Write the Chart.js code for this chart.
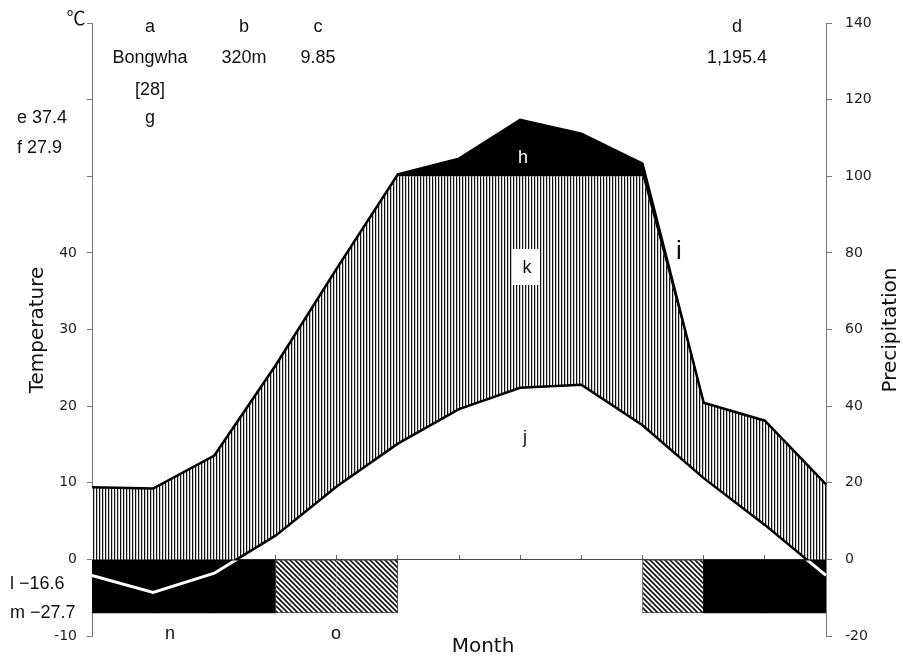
<!DOCTYPE html>
<html>
<head>
<meta charset="utf-8">
<script src="https://cdn.jsdelivr.net/npm/chart.js@4.4.0/dist/chart.umd.min.js"></script>
<style>
body { margin: 0; background: #fff; }
</style>
</head>
<body>
<canvas id="myChart" width="903" height="658"></canvas>
<script>
// 13 points: month boundaries, last one wraps back to the first month
var monthPoints = ['1', '2', '3', '4', '5', '6', '7', '8', '9', '10', '11', '12', '1'];
var months = ['1', '2', '3', '4', '5', '6', '7', '8', '9', '10', '11', '12'];
var temperature = [-2.1, -4.3, -1.8, 3.1, 9.5, 15.1, 19.6, 22.4, 22.8, 17.5, 10.6, 4.5, -2.1];
var precipitation = [18.8, 18.5, 27.1, 50.6, 75.9, 100.5, 104.6, 114.7, 111.1, 103.3, 40.9, 36.2, 19.6];
// frost: 'sure' = black bar, 'probable' = hatched bar
var frost = ['sure', 'sure', 'sure', 'probable', 'probable', null, null, null, null, 'probable', 'sure', 'sure'];
var tempTicks = [-10, 0, 10, 20, 30, 40];

function stripePattern() {
    var c = document.createElement('canvas');
    c.width = 3; c.height = 3;
    var g = c.getContext('2d');
    g.fillStyle = '#fff'; g.fillRect(0, 0, 3, 3);
    g.fillStyle = '#c8c8c8'; g.fillRect(1, 0, 1, 3);
    g.fillStyle = '#111'; g.fillRect(0, 0, 1, 3);
    return g.createPattern(c, 'repeat');
}

function diagPattern() {
    var c = document.createElement('canvas');
    c.width = 5; c.height = 5;
    var g = c.getContext('2d');
    g.fillStyle = '#fff'; g.fillRect(0, 0, 5, 5);
    g.strokeStyle = '#111'; g.lineWidth = 1.6;
    g.beginPath();
    g.moveTo(-1, -1); g.lineTo(6, 6);
    g.moveTo(-1, 4); g.lineTo(1, 6);
    g.moveTo(4, -1); g.lineTo(6, 1);
    g.stroke();
    return g.createPattern(c, 'repeat');
}

var stripes = stripePattern();
var diag = diagPattern();

// white temperature line only below zero
var belowZeroClip = {
    id: 'belowZeroClip',
    beforeDatasetDraw(chart, args) {
        if (args.index !== 0) return;
        var a = chart.chartArea;
        var y0 = chart.scales.y.getPixelForValue(0);
        chart.ctx.save();
        chart.ctx.beginPath();
        chart.ctx.rect(a.left - 5, y0 + 1, a.right - a.left + 10, a.bottom - y0);
        chart.ctx.clip();
    },
    afterDatasetDraw(chart, args) {
        if (args.index === 0) chart.ctx.restore();
    }
};

function txt(ctx, s, x, y, font, align, color) {
    ctx.font = font;
    ctx.textAlign = align || 'center';
    ctx.textBaseline = 'middle';
    ctx.fillStyle = color || '#111';
    ctx.fillText(s, x, y);
}

var labelsPlugin = {
    id: 'labelsPlugin',
    afterDraw(chart) {
        var ctx = chart.ctx;
        var f = '18px "Liberation Sans"';
        ctx.save();
        txt(ctx, '℃', 76, 18, '19px "Noto Sans CJK KR"');
        txt(ctx, 'a', 150, 27, f);
        txt(ctx, 'b', 244, 27, f);
        txt(ctx, 'c', 318, 27, f);
        txt(ctx, 'd', 737, 27, f);
        txt(ctx, 'Bongwha', 150, 58, f);
        txt(ctx, '320m', 244, 58, f);
        txt(ctx, '9.85', 318, 58, f);
        txt(ctx, '1,195.4', 737, 58, f);
        txt(ctx, '[28]', 150, 90, f);
        txt(ctx, 'g', 150, 118, f);
        txt(ctx, 'e 37.4', 17, 118, f, 'left');
        txt(ctx, 'f 27.9', 17, 148, f, 'left');
        txt(ctx, 'l −16.6', 10, 584, f, 'left');
        txt(ctx, 'm −27.7', 10, 613, f, 'left');
        txt(ctx, 'n', 170, 634, f);
        txt(ctx, 'o', 336, 634, f);
        txt(ctx, 'h', 523, 158, f, 'center', '#fff');
        ctx.fillStyle = '#fff';
        ctx.fillRect(513, 249, 27, 36);
        txt(ctx, 'k', 527, 268, f);
        txt(ctx, 'i', 679, 252, '26px "Liberation Sans"');
        txt(ctx, 'j', 525, 438, f);
        txt(ctx, 'Month', 483, 647, '20px "DejaVu Sans"');
        ctx.save();
        ctx.translate(38, 330);
        ctx.rotate(-Math.PI / 2);
        txt(ctx, 'Temperature', 0, 0, '20px "DejaVu Sans"');
        ctx.restore();
        ctx.save();
        ctx.translate(891, 330);
        ctx.rotate(-Math.PI / 2);
        txt(ctx, 'Precipitation', 0, 0, '20px "DejaVu Sans"');
        ctx.restore();
        ctx.restore();
    }
};

// outline only round the outside of a run of hatched bars
function frostBorder(ctx) {
    var i = ctx.dataIndex;
    var f = frost[i];
    if (f !== 'probable') return 0;
    return {
        top: 1,
        bottom: 1,
        left: frost[i - 1] === f ? 0 : 1,
        right: frost[i + 1] === f ? 0 : 1
    };
}

new Chart('myChart', {
    type: 'line',
    data: {
        labels: monthPoints,
        datasets: [{
            // 0: white part of temperature line (below 0)
            data: temperature,
            yAxisID: 'y',
            borderColor: '#fff',
            borderWidth: 3,
            pointRadius: 0,
            fill: false,
            order: 0
        }, {
            // 1: temperature line
            data: temperature,
            yAxisID: 'y',
            borderColor: '#000',
            borderWidth: 2.5,
            pointRadius: 0,
            fill: false,
            order: 1
        }, {
            // 2: frost bars
            type: 'bar',
            xAxisID: 'x2',
            yAxisID: 'y',
            data: frost.map(f => f ? [0, -7] : null),
            backgroundColor: frost.map(f => f === 'sure' ? '#000' : diag),
            borderColor: '#444',
            borderWidth: frostBorder,
            borderSkipped: false,
            grouped: false,
            categoryPercentage: 1,
            barPercentage: 1,
            order: 2
        }, {
            // 3: precipitation line, black above 100 mm
            data: precipitation,
            yAxisID: 'y2',
            borderColor: '#000',
            borderWidth: 2.5,
            pointRadius: 0,
            backgroundColor: '#000',
            fill: 4,
            order: 3
        }, {
            // 4: precipitation capped at 100, striped down to temperature
            data: precipitation.map(p => Math.min(p, 100)),
            yAxisID: 'y2',
            borderWidth: 0,
            borderColor: 'rgba(0,0,0,0)',
            pointRadius: 0,
            backgroundColor: stripes,
            fill: 1,
            order: 4
        }]
    },
    options: {
        responsive: false,
        animation: false,
        layout: { padding: { top: 23, bottom: 22, left: 0, right: 0 } },
        plugins: {
            legend: { display: false },
            tooltip: { enabled: false }
        },
        scales: {
            x: {
                type: 'category',
                position: { y: 0 },
                offset: false,
                ticks: { display: false },
                grid: { drawOnChartArea: false, drawTicks: true, tickLength: -5, color: '#666' },
                border: { display: true, color: '#444', width: 1 }
            },
            x2: {
                type: 'category',
                labels: months,
                offset: true,
                display: false
            },
            y: {
                position: 'left',
                min: -10,
                max: 70,
                afterFit: s => { s.width = 92; },
                ticks: {
                    stepSize: 10,
                    padding: 10,
                    color: '#222',
                    font: { family: 'DejaVu Sans', size: 14 },
                    callback: v => tempTicks.includes(v) ? v : ''
                },
                grid: { drawOnChartArea: false, drawTicks: true, tickLength: 5, color: '#777' },
                border: { display: true, color: '#777' }
            },
            y2: {
                position: 'right',
                min: -20,
                max: 140,
                afterFit: s => { s.width = 77; },
                ticks: {
                    stepSize: 20,
                    padding: 13,
                    color: '#222',
                    font: { family: 'DejaVu Sans', size: 14 }
                },
                grid: { drawOnChartArea: false, drawTicks: true, tickLength: 6, color: '#777' },
                border: { display: true, color: '#777' }
            }
        }
    },
    plugins: [belowZeroClip, labelsPlugin]
});
</script>
</body>
</html>
